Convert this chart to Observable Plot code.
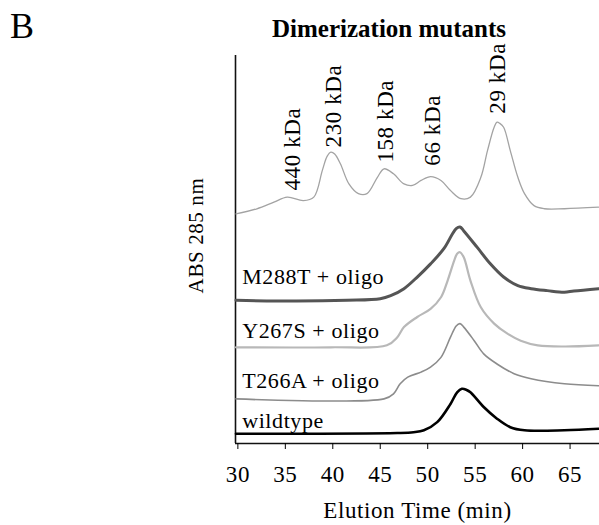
<!DOCTYPE html>
<html><head><meta charset="utf-8">
<script src="https://cdn.jsdelivr.net/npm/d3@7"></script>
<script src="https://cdn.jsdelivr.net/npm/@observablehq/plot@0.6"></script>
<style>
body{margin:0;background:#fff;font-family:"Liberation Serif","Times New Roman",serif;color:#000;}
#wrap{position:relative;width:599px;height:525px;overflow:hidden;}
#panel{position:absolute;left:10px;top:8px;font-size:36px;line-height:1;}
#title{position:absolute;left:189px;width:400px;top:16px;text-align:center;font-size:25px;font-weight:bold;line-height:1;}
#chart{position:absolute;left:0;top:40px;}
</style></head>
<body>
<div id="wrap">
  <div id="panel">B</div>
  <div id="title">Dimerization mutants</div>
  <div id="chart"></div>
</div>
<script>
// Elution time (min) and stacked absorbance (arbitrary units)
const markerTime = [29.8,32.0,33.8,35.2,36.9,38.0,38.9,39.4,39.8,40.2,40.8,41.7,42.7,43.6,44.7,45.4,46.4,47.5,48.4,49.3,50.3,51.4,52.4,53.5,54.5,55.6,56.3,57.0,57.3,57.6,58.0,58.7,59.5,60.2,61.2,62.3,64.4,68.0];
const markerAbs  = [59.2,60.5,62.2,63.5,62.6,63.5,70.4,74.0,75.1,74.6,72.1,66.9,64.4,64.4,68.6,70.8,69.5,66.9,66.5,67.8,68.8,67.8,65.2,63.1,63.5,68.6,75.5,81.5,82.8,82.5,81.5,75.5,68.6,64.4,61.3,60.5,60.5,60.9];

const m288tTime = [29.8,36.2,41.5,45.0,46.1,47.5,48.9,50.3,51.7,52.6,53.0,53.4,53.8,55.2,56.6,58.0,59.5,60.9,62.6,64.4,65.4,68.0];
const m288tAbs  = [36.9,36.7,36.9,37.3,38.1,39.9,42.9,46.3,50.2,54.0,55.4,55.8,54.8,50.6,46.3,42.9,40.7,39.9,39.4,39.0,39.3,39.9];

const y267sTime = [29.8,39.8,45.7,46.8,47.5,48.9,50.3,51.4,52.1,52.8,53.1,53.4,53.8,54.5,55.6,57.0,58.4,59.8,61.6,64.4,68.0];
const y267sAbs  = [24.8,24.8,25.3,27.4,30.0,32.6,34.7,37.7,42.0,47.2,48.9,49.3,48.0,42.0,35.1,30.9,28.3,26.5,25.3,25.0,25.3];

const t266aTime = [29.8,45.4,46.4,47.1,47.9,49.3,50.3,51.4,52.4,53.0,53.4,53.8,54.9,55.9,57.3,59.1,60.9,64.4,68.0];
const t266aAbs  = [11.5,11.5,12.8,15.4,17.1,18.4,19.7,22.2,27.4,30.3,30.9,30.0,26.5,23.1,20.5,18.0,16.7,15.4,14.9];

const wildTime = [29.8,46.8,48.5,49.6,51.0,52.4,53.1,53.6,54.1,54.5,55.9,57.3,58.7,60.2,64.4,68.0];
const wildAbs  = [2.5,2.7,2.9,3.4,5.5,10.2,13.2,14.1,13.8,13.2,9.4,6.4,4.2,3.4,3.4,3.8];

const traceNames  = ["markers","M288T + oligo","Y267S + oligo","T266A + oligo","wildtype"];
const traceLabelX = [null,30.45,30.45,30.45,30.45];
const traceLabelY = [null,42.8,29.1,16.2,5.9];

const mwLabels = ["440 kDa","230 kDa","158 kDa","66 kDa","29 kDa"];
const mwTime   = [35.75,40.1,45.55,50.5,57.35];
const mwAbs    = [65.2,76.3,72.4,71.6,85.0];

const xTicks = [30,35,40,45,50,55,60,65];

// styles
const strokeColors = ["#a3a3a3","#555555","#b8b8b8","#8c8c8c","#000000"];
const strokeWidths = [1.3,3,2.2,1.6,2.6];

const seriesTimes = [markerTime,m288tTime,y267sTime,t266aTime,wildTime];
const seriesAbs = [markerAbs,m288tAbs,y267sAbs,t266aAbs,wildAbs];

const lineMarks = seriesTimes.map((ts, i) => {
  const rows = ts.map((t, j) => ({t, a: seriesAbs[i][j]}));
  return Plot.line(rows, {x: "t", y: "a", stroke: strokeColors[i], strokeWidth: strokeWidths[i], curve: "catmull-rom"});
});

const labelRows = traceNames.map((n, i) => ({n, x: traceLabelX[i], y: traceLabelY[i]})).filter(d => d.x != null);
const mwRows = mwLabels.map((n, i) => ({n, x: mwTime[i], y: mwAbs[i]}));

const chart = Plot.plot({
  width: 599,
  height: 485,
  marginLeft: 235,
  marginRight: 0,
  marginTop: 15,
  marginBottom: 82,
  style: {fontFamily: "'Liberation Serif','Times New Roman',serif", fontSize: "22px", background: "white", overflow: "visible", color: "#000", letterSpacing: "0.6px"},
  x: {domain: [29.75, 68.1]},
  y: {domain: [0, 100], axis: null},
  marks: [
    Plot.ruleY([0], {stroke: "#111", strokeWidth: 1.6}),
    Plot.ruleX([29.75], {y1: 0, y2: 100, stroke: "#111", strokeWidth: 1.6}),
    Plot.axisX({ticks: xTicks, tickSize: 6, tickPadding: 16, fontSize: 23, label: "Elution Time (min)", labelAnchor: "center", labelOffset: 74, labelArrow: "none"}),
    ...lineMarks,
    Plot.text(labelRows, {x: "x", y: "y", text: "n", textAnchor: "start", fontSize: 22}),
    Plot.text(mwRows, {x: "x", y: "y", text: "n", textAnchor: "start", rotate: -90, fontSize: 23}),
    Plot.text(["ABS 285 nm"], {x: 29.75, y: 53.6, text: d => d, dx: -39, rotate: -90, fontSize: 21})
  ]
});
document.getElementById("chart").appendChild(chart);
</script>
</body></html>
